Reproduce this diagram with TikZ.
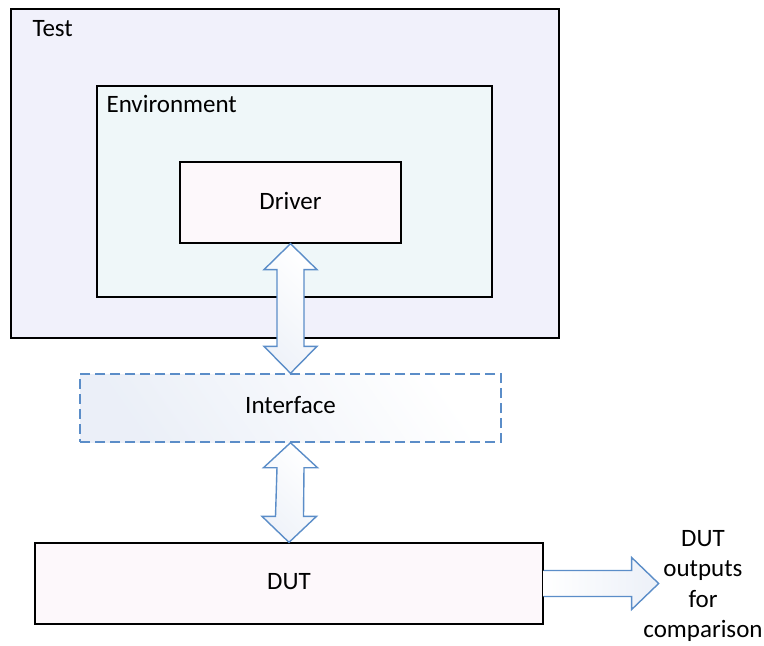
\documentclass[tikz,border=0pt]{standalone}
\usepackage{fontspec}
\setmainfont{Carlito}
\usetikzlibrary{calc}
\definecolor{testfill}{HTML}{F1F1FB}
\definecolor{envfill}{HTML}{EFF7F9}
\definecolor{pinkfill}{HTML}{FDF8FB}
\definecolor{arrowblue}{HTML}{5B8DC8}
\definecolor{shadeblue}{HTML}{E4EAF5}
\tikzset{
  box/.style={draw=black, line width=1.3pt, inner sep=0pt},
  lbl/.style={font=\fontsize{25}{30.5}\selectfont, inner sep=0pt},
  barrow/.style={draw=arrowblue, line width=1.4pt, line join=miter, left color=shadeblue!60, right color=white, shading angle=135},
}
\begin{document}
\begin{tikzpicture}[x=1pt,y=-1pt]
\useasboundingbox (0,0) rectangle (764,646);
% boxes
\node[box, fill=testfill, minimum width=548, minimum height=329] (test) at (285,173.5) {};
\node[lbl, anchor=west] (testlbl) at ($(test.north west)+(22,20)$) {Test};
\node[box, fill=envfill, minimum width=395, minimum height=211] (env) at (294.5,191.5) {};
\node[lbl, anchor=west] (envlbl) at ($(env.north west)+(10,19)$) {Environment};
\node[box, fill=pinkfill, minimum width=221, minimum height=81] (driver) at (290.5,202.5) {};
\node[lbl] (driverlbl) at ($(driver)+(0,-2)$) {Driver};
\node[draw=arrowblue, line width=1.4pt, dash pattern=on 10pt off 5pt, left color=shadeblue!75, right color=white, shading angle=125, minimum width=421, minimum height=68, inner sep=0pt] (iface) at (290.5,408) {};
\node[lbl] (ifacelbl) at ($(iface)+(0,-3)$) {Interface};
\node[box, fill=pinkfill, minimum width=508, minimum height=81] (dut) at (289,583.5) {};
\node[lbl] (dutlbl) at ($(dut)+(0,-1.5)$) {DUT};
\node[lbl, align=center] (out) at (703,586) {DUT\\outputs\\for\\comparison};
% double arrow driver <-> interface
\draw[barrow] (driver.south) -- ++(26.5,26) -- ++(-13,0) -- ($(iface.north)+(13.5,-27)$) -- ++(13,0) -- (iface.north)
  -- ++(-26.5,-27) -- ++(13,0) -- ($(driver.south)+(-13.5,26)$) -- ++(-13,0) -- cycle;
% double arrow interface <-> dut
\draw[barrow] (iface.south) -- ++(27,25) -- ++(-13.5,0) -- ($(dut.north)+(14.5,-26)$) -- ++(13,0) -- (dut.north)
  -- ++(-27,-26) -- ++(13.5,0) -- ($(iface.south)+(-13.5,25)$) -- ++(-13.5,0) -- cycle;
% output arrow
\coordinate (tip) at ($(dut.east)+(115,0)$);
\fill[left color=white, right color=shadeblue!70, shading angle=90] ($(dut.east)+(0,-13)$) -- ($(tip)+(-27,-13)$) -- ($(tip)+(-27,-26)$) -- (tip) -- ($(tip)+(-27,26)$) -- ($(tip)+(-27,13)$) -- ($(dut.east)+(0,13)$) -- cycle;
\draw[draw=arrowblue, line width=1.4pt, line join=miter] ($(dut.east)+(0,-13)$) -- ($(tip)+(-27,-13)$) -- ($(tip)+(-27,-26)$) -- (tip) -- ($(tip)+(-27,26)$) -- ($(tip)+(-27,13)$) -- ($(dut.east)+(0,13)$);
\end{tikzpicture}
\end{document}
